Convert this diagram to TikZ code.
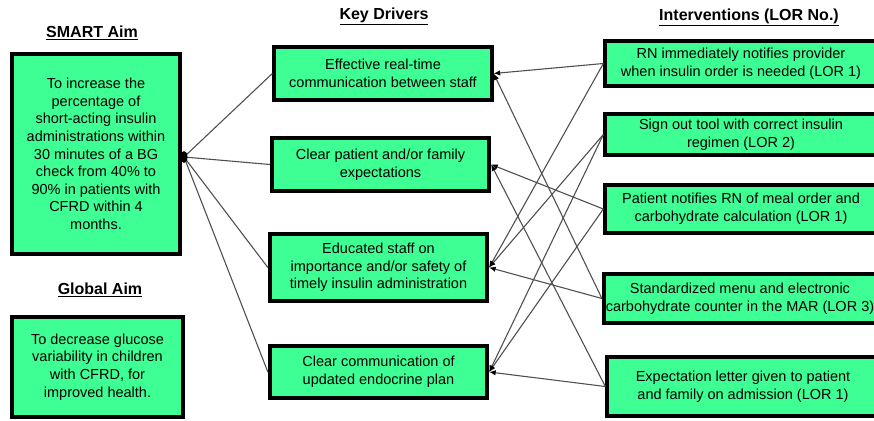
\documentclass[tikz,border=0pt]{standalone}
\usepackage{fontspec}
\setmainfont{Liberation Sans}
\usetikzlibrary{arrows.meta}
\definecolor{boxgreen}{RGB}{61,255,148}
\definecolor{linkgray}{RGB}{80,80,80}

\begin{document}
\begin{tikzpicture}[x=1pt,y=-1pt,
	box/.style={draw=black, line width=3.8pt, fill=boxgreen, align=center, inner sep=2pt,
		font=\fontsize{14.5}{17.6}\selectfont},
	head/.style={font=\fontsize{16}{19}\selectfont\bfseries},
	link/.style={draw=linkgray, line width=1.1pt},
	tip/.style={link, -{Latex[length=6.5pt,width=5.5pt,color=black]}}]
	                %\draw[step=10pt,color=gray] (0,0) grid (874,420);
			\useasboundingbox (0,0) rectangle (874,420);
			\clip (0,0) rectangle (874,420);
			% column titles
			\node[head] (smarttitle) at (92,33) {\underline{SMART Aim}};
			\node[head] (globaltitle) at (100,290) {\underline{Global Aim}};
			\node[head] (kdtitle) at (384,16) {\underline{Key Drivers}};
			\node[head] (inttitle) at (749,17) {\underline{Interventions (LOR No.)}};
			% aims
			\node[box, minimum width=168.5pt, minimum height=200.5pt] (smart) at (96,154)
				{To increase the\\percentage of\\short-acting insulin\\administrations within\\30 minutes of a BG\\check from 40\% to\\90\% in patients with\\CFRD within 4\\months.};
			\node[box, minimum width=171.5pt, minimum height=100.5pt] (global) at (97.5,367)
				{To decrease glucose\\variability in children\\with CFRD, for\\improved health.};
			% key drivers
			\node[box, minimum width=217.5pt, minimum height=53.5pt] (kd1) at (383,73.5)
				{Effective real-time\\communication between staff};
			\node[box, minimum width=217.5pt, minimum height=53.5pt] (kd2) at (380.5,164.5)
				{Clear patient and/or family\\expectations};
			\node[box, minimum width=217.5pt, minimum height=67.5pt] (kd3) at (378.5,267.5)
				{Educated staff on\\importance and/or safety of\\timely insulin administration};
			\node[box, minimum width=217.5pt, minimum height=52.5pt] (kd4) at (378.5,372)
				{Clear communication of\\updated endocrine plan};
			% interventions
			\node[box, minimum width=271.5pt, minimum height=45.5pt] (int1) at (741,63.5)
				{RN immediately notifies provider\\when insulin order is needed (LOR 1)};
			\node[box, minimum width=271.5pt, minimum height=41.5pt] (int2) at (741,134.5)
				{Sign out tool with correct insulin\\regimen (LOR 2)};
			\node[box, minimum width=271.5pt, minimum height=48.5pt] (int3) at (741,209)
				{Patient notifies RN of meal order and\\carbohydrate calculation (LOR 1)};
			\node[box, minimum width=271.5pt, minimum height=49.5pt] (int4) at (740,298.5)
				{Standardized menu and electronic\\carbohydrate counter in the MAR (LOR 3)};
			\node[box, minimum width=271.5pt, minimum height=59.5pt] (int5) at (743,386.5)
				{Expectation letter given to patient\\and family on admission (LOR 1)};
			% aim to drivers
			\coordinate (hub) at (184,157);
			\foreach \k in {1,...,4}
				\draw[link] (hub) -- (kd\k.west);
			\fill[black] (hub) ellipse (3.5pt and 6pt);
			% interventions to drivers
			\foreach \i/\k in {1/1,4/1,3/2,5/2,1/3,2/3,4/3,2/4,3/4,5/4}
				\draw[tip] (int\i.west) -- (kd\k.east);
	\end{tikzpicture}
\end{document}
